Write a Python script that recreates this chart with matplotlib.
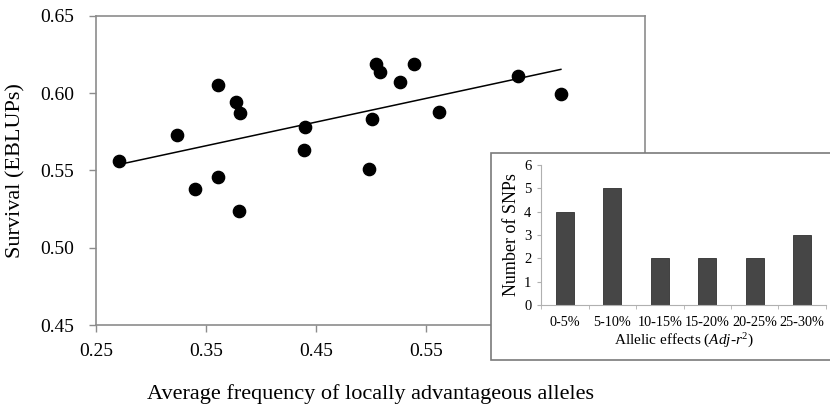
import numpy as np
import matplotlib
matplotlib.use("Agg")
import matplotlib.pyplot as plt
from matplotlib.patches import Rectangle

plt.rcParams['font.family'] = ['Liberation Serif', 'DejaVu Serif']
plt.rcParams['mathtext.fontset'] = 'custom'
plt.rcParams['mathtext.rm'] = 'Liberation Serif'
plt.rcParams['mathtext.it'] = 'Liberation Serif:italic'

# scatter data: average frequency vs survival
freq = [0.271, 0.324, 0.340, 0.361, 0.361, 0.377, 0.381, 0.380, 0.440, 0.439,
        0.498, 0.501, 0.505, 0.508, 0.527, 0.539, 0.562, 0.634, 0.673]
surv = [0.556, 0.573, 0.538, 0.605, 0.546, 0.594, 0.587, 0.524, 0.578, 0.563,
        0.551, 0.583, 0.619, 0.614, 0.607, 0.619, 0.588, 0.611, 0.5995]

# inset histogram
effect_bins = ['0-5%', '5-10%', '10-15%', '15-20%', '20-25%', '25-30%']
n_snps = [4, 5, 2, 2, 2, 3]

# x ticks visible outside the inset (0.65 and 0.75 sit under it)
x_ticks = [0.25, 0.35, 0.45, 0.55]
y_ticks = [0.45, 0.50, 0.55, 0.60, 0.65]

gray = '#8c8c8c'

fig = plt.figure(figsize=(8.3, 4.04), dpi=100)

ax = fig.add_axes([0.1157, 0.1955, 0.662, 0.765])
ax.scatter(freq, surv, s=78, color='black', zorder=3)
slope, icpt = np.polyfit(freq, surv, 1)
xl = np.array([min(freq), max(freq)])
ax.plot(xl, slope * xl + icpt, color='black', lw=1.1)
ax.set_xlim(0.25, 0.75)
ax.set_ylim(0.45, 0.65)
ax.set_xticks(x_ticks)
ax.set_yticks(y_ticks)
ax.set_xticklabels([f'{v:.2f}' for v in x_ticks])
ax.set_yticklabels([f'{v:.2f}' for v in y_ticks])
ax.tick_params(labelsize=14, length=5, width=1, color=gray, direction='out')
ax.tick_params(axis='y', pad=11)
ax.tick_params(axis='x', pad=8)
for sp in ax.spines.values():
    sp.set_color(gray)
    sp.set_linewidth(1.2)
ax.set_xlabel('Average frequency of locally advantageous alleles', fontsize=16, labelpad=17)
ax.set_ylabel('Survival (EBLUPs)', fontsize=16, labelpad=10)

# inset frame
box = Rectangle((491 / 830, 1 - 360 / 404), 0.5, (360 - 153) / 404,
                transform=fig.transFigure, facecolor='white', edgecolor='#7a7a7a',
                lw=1.2, zorder=5)
fig.patches.append(box)

ins = fig.add_axes([0.652, 0.245, 0.343, 0.3466])
ins.set_zorder(10)
pos = np.arange(len(effect_bins))
ins.bar(pos, n_snps, width=0.38, color='#464646', edgecolor='#303030', lw=0.6)
ins.set_xlim(-0.5, len(effect_bins) - 0.5)
ins.set_ylim(0, 6)
ins.set_yticks(range(0, 7))
ins.set_xticks(pos)
ins.set_xticklabels(effect_bins)
ins.set_xticks(np.arange(-0.5, len(effect_bins)), minor=True)
ins.tick_params(axis='x', which='major', length=0, labelsize=10.3, pad=8)
ins.tick_params(axis='x', which='minor', length=3, color='#b0b0b0')
ins.tick_params(axis='y', labelsize=10.5, length=3, color='#b0b0b0', pad=4)
for k in ['top', 'right']:
    ins.spines[k].set_visible(False)
for k in ['left', 'bottom']:
    ins.spines[k].set_color('#b0b0b0')
ins.set_ylabel('Number of SNPs', fontsize=13, labelpad=3)
ins.set_xlabel(r'Allelic effects ($\mathit{Adj}$-$\mathit{r}^{2}$)', fontsize=11, labelpad=2)

fig.savefig('out.png', dpi=100)
